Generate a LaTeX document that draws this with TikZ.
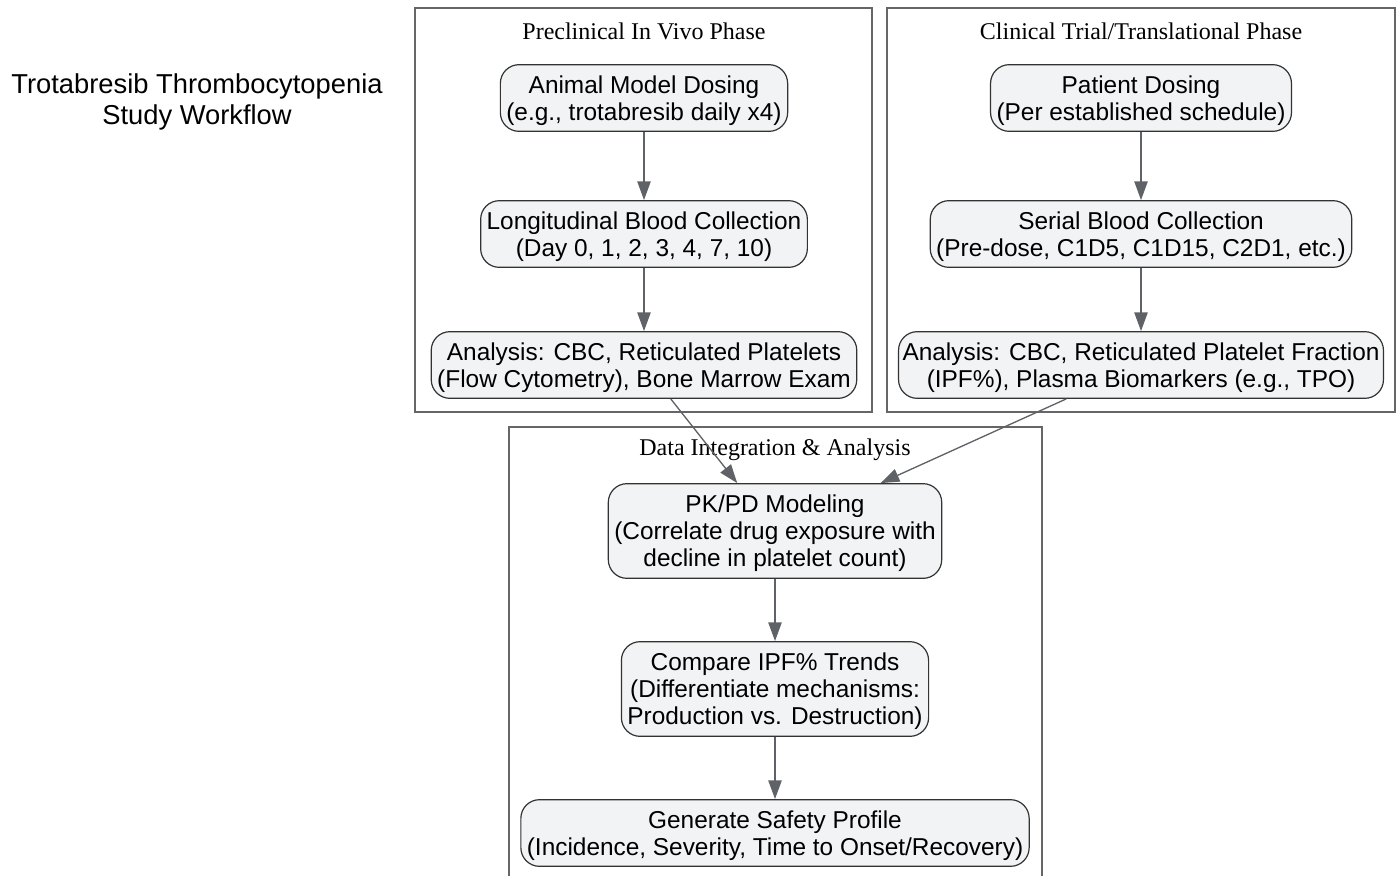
\documentclass[tikz,border=0pt]{standalone}
\usepackage{fontspec}
\setmainfont{Liberation Serif}
\setsansfont{Liberation Sans}
\usepackage{tikz}
\usetikzlibrary{arrows.meta}
\definecolor{edgegray}{HTML}{5F6368}
\definecolor{boxfill}{HTML}{F1F3F4}
\definecolor{clustergray}{HTML}{666666}

\begin{document}
\begin{tikzpicture}[x=0.75pt,y=-0.75pt,
  stepbox/.style={draw=black!80, fill=boxfill, line width=0.9pt, rounded corners=14pt, align=center,
    font=\sffamily\fontsize{18.3}{20.25}\selectfont, inner xsep=4.5pt, inner ysep=2pt,
    text depth=-2pt, minimum height=50pt},
  tallbox/.style={stepbox, minimum height=71pt},
  cluster/.style={draw=clustergray, line width=0.9pt},
  clustertitle/.style={font=\fontsize{18}{20}\selectfont},
  flow/.style={draw=edgegray, line width=1pt, -{Triangle[length=14pt,width=10pt]}}]
\useasboundingbox (0,0) rectangle (1399,875);

\draw[cluster] (415,8) rectangle (872,412);
\draw[cluster] (887,8) rectangle (1395,412);
\draw[cluster] (509,890) -- (509,427) -- (1042,427) -- (1042,890);

\node[align=center, font=\sffamily\fontsize{20.5}{23.5}\selectfont] (title) at (197,102)
  {Trotabresib Thrombocytopenia\\Study Workflow};

\node[clustertitle] (pretitle) at (644,31) {Preclinical In Vivo Phase};
\node[clustertitle] (clintitle) at (1141,31) {Clinical Trial/Translational Phase};
\node[clustertitle] (datatitle) at (775,450) {Data Integration \& Analysis};

\node[stepbox] (dosing) at (644,98) {Animal Model Dosing\\(e.g., trotabresib daily x4)};
\node[stepbox] (blood) at (644,234) {Longitudinal Blood Collection\\(Day 0, 1, 2, 3, 4, 7, 10)};
\node[stepbox] (analysis) at (644,365) {Analysis: CBC, Reticulated Platelets\\(Flow Cytometry), Bone Marrow Exam};

\node[stepbox] (pdosing) at (1141,98) {Patient Dosing\\(Per established schedule)};
\node[stepbox] (pblood) at (1141,234) {Serial Blood Collection\\(Pre-dose, C1D5, C1D15, C2D1, etc.)};
\node[stepbox, inner xsep=3pt] (panalysis) at (1141,365) {Analysis: CBC, Reticulated Platelet Fraction\\(IPF\%), Plasma Biomarkers (e.g., TPO)};

\node[tallbox] (pkpd) at (775,531) {PK/PD Modeling\\(Correlate drug exposure with\\decline in platelet count)};
\node[tallbox] (ipf) at (775,689) {Compare IPF\% Trends\\(Differentiate mechanisms:\\Production vs. Destruction)};
\node[stepbox] (safety) at (775,833) {Generate Safety Profile\\(Incidence, Severity, Time to Onset/Recovery)};

\draw[flow] (dosing) -- (blood);
\draw[flow] (blood) -- (analysis);
\draw[flow] (pdosing) -- (pblood);
\draw[flow] (pblood) -- (panalysis);
\draw[flow] (analysis) -- (pkpd);
\draw[flow] (panalysis) -- (pkpd);
\draw[flow] (pkpd) -- (ipf);
\draw[flow] (ipf) -- (safety);
\end{tikzpicture}
\end{document}
